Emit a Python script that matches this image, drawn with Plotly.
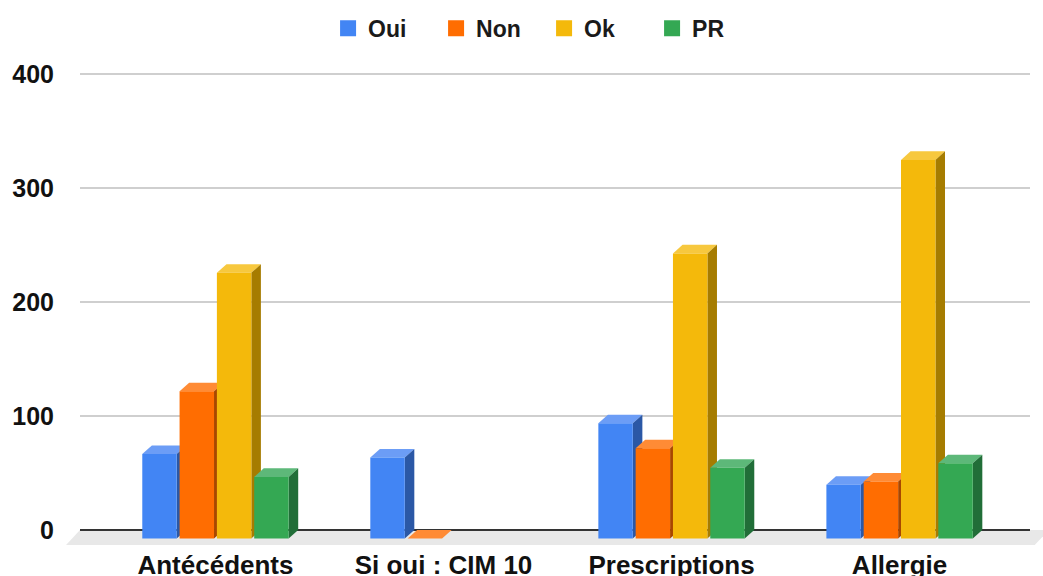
import plotly.graph_objects as go

categories = ["Antécédents", "Si oui : CIM 10", "Prescriptions", "Allergie"]
series_names = ["Oui", "Non", "Ok", "PR"]
oui = [74, 71, 101, 47]
non = [129, 0, 79, 50]
ok = [233, None, 250, 332]
pr = [54, None, 62, 66]
y_ticks = [0, 100, 200, 300, 400]

series_values = [oui, non, ok, pr]
front_colors = ["#4285F4", "#FF6D01", "#F4B90B", "#34A853"]
top_colors = ["#6C9DF6", "#FF8B35", "#F7C83E", "#5DB879"]
side_colors = ["#2B58A6", "#A84700", "#A67C00", "#216E38"]

SLOT = 0.1636
BAR_W = 0.151
DX = 0.042
DY = 7.5

FONT = "Liberation Sans, Arial, sans-serif"

fig = go.Figure()
shapes = []

# floor (decorative)
shapes.append(dict(type="path", xref="paper", yref="y", layer="below",
                   path="M 0,0 L 1.02,0 L 1.005,-13.2 L -0.0147,-13.2 Z",
                   fillcolor="#E8E8E8", line=dict(width=0)))

n = len(categories)
for j, (name, vals) in enumerate(zip(series_names, series_values)):
    xs = [i + (j - 1.5) * SLOT for i in range(n)]
    fig.add_trace(go.Bar(
        x=xs, y=vals, base=-DY, width=BAR_W, name=name,
        marker=dict(color=front_colors[j], line=dict(width=0)),
        showlegend=False, hoverinfo="skip"))
    for x, v in zip(xs, vals):
        if v is None:
            continue
        x0 = x - BAR_W / 2
        x1 = x + BAR_W / 2
        shapes.append(dict(
            type="path", xref="x", yref="y", layer="between",
            path=f"M {x0},{v-DY} L {x0+DX},{v} L {x1+DX},{v} L {x1},{v-DY} Z",
            fillcolor=top_colors[j], line=dict(width=0)))
        if v > 0:
            shapes.append(dict(
                type="path", xref="x", yref="y", layer="between",
                path=f"M {x1},{-DY} L {x1+DX},0 L {x1+DX},{v} L {x1},{v-DY} Z",
                fillcolor=side_colors[j], line=dict(width=0)))
    # legend entry
    fig.add_trace(go.Scatter(
        x=[None], y=[None], mode="markers", name=name,
        marker=dict(symbol="square", size=16, color=front_colors[j]),
        hoverinfo="skip"))

fig.update_layout(
    width=1043, height=576,
    margin=dict(l=80, r=13, t=51, b=29, autoexpand=False),
    paper_bgcolor="white", plot_bgcolor="white",
    barmode="overlay",
    shapes=shapes,
    showlegend=True,
    legend=dict(orientation="h", x=0.4885, xanchor="center", y=1.046, yanchor="middle",
                entrywidth=63, entrywidthmode="pixels",
                font=dict(family=FONT, size=23, color="#1a1a1a", weight="bold"),
                itemclick=False, itemdoubleclick=False),
    xaxis=dict(range=[-0.594, 3.572], tickvals=list(range(n)), ticktext=categories,
               showgrid=False, zeroline=False, showline=False, ticks="",
               tickfont=dict(family=FONT, size=26, color="#111", weight="bold"),
               fixedrange=True),
    yaxis=dict(range=[-15, 420], tickvals=y_ticks, ticktext=[str(t) for t in y_ticks],
               showgrid=True, gridcolor="#CFCFCF", gridwidth=2,
               zeroline=True, zerolinecolor="#333333", zerolinewidth=2,
               showline=False, ticks="outside", ticklen=20, tickcolor="rgba(0,0,0,0)",
               tickfont=dict(family=FONT, size=25, color="#111", weight="bold"),
               fixedrange=True),
)

fig.write_html("out.html", config={"displayModeBar": False},
               post_script="document.body.style.margin='0';")
